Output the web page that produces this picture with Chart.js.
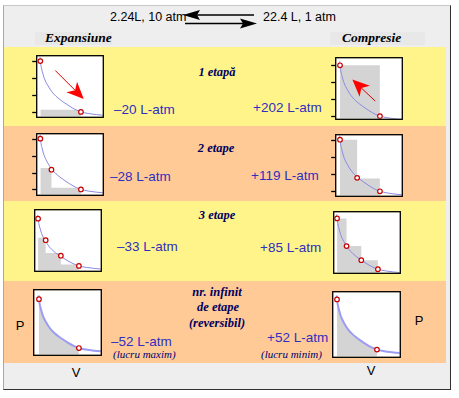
<!DOCTYPE html>
<html lang="ro">
<head>
<meta charset="UTF-8">
<title>Lucru mecanic izoterm: expansiune si compresie</title>
<script src="https://cdn.jsdelivr.net/npm/chart.js"></script>
<style>
  body { margin:0; width:459px; height:398px; position:relative; overflow:hidden; background:#fff;
         font-family:"Liberation Sans", Arial, sans-serif; }
  .abs { position:absolute; }
  .panel { left:3px; top:5px; width:446px; height:383px; background:#eeeeee;
           border-left:1px solid #a8a8a8; border-top:1px solid #c8c8c8;
           border-right:1px solid #303030; border-bottom:1px solid #303030; }
  .row { left:4px; width:442px; }
  .yel { background:#fff48a; }
  .org { background:#ffca96; }
  .t { position:absolute; line-height:1; white-space:nowrap; transform:translateY(-50%); }
  .c { transform:translate(-50%,-50%); text-align:center; }
  .hdr { font-size:12.5px; color:#000; }
  .head { font-family:"Liberation Serif", "Times New Roman", serif; font-weight:bold; font-style:italic; font-size:13.5px; color:#000; }
  .step { font-family:"Liberation Serif", "Times New Roman", serif; font-weight:bold; font-style:italic; font-size:12.5px; color:#000060; }
  .work { font-size:13.5px; color:#2f2fbf; }
  .note { font-family:"Liberation Serif", "Times New Roman", serif; font-style:italic; font-size:11px; color:#000070; }
  .axl { font-size:13px; color:#000; }
  canvas { position:absolute; }
</style>
</head>
<body>
<div class="abs panel"></div>
<div class="abs" style="left:35px;top:32px;width:77px;height:13px;background:#e8e8e8"></div>
<div class="abs" style="left:330px;top:32px;width:95px;height:13px;background:#e8e8e8"></div>
<div class="abs row yel" style="top:47px;height:79px"></div>
<div class="abs row org" style="top:126px;height:75px"></div>
<div class="abs row yel" style="top:201px;height:80px"></div>
<div class="abs row org" style="top:281px;height:82px"></div>

<svg class="abs" style="left:0;top:0" width="459" height="40">
  <line x1="195" y1="15" x2="254" y2="15" stroke="#000" stroke-width="1.3"/>
  <polygon points="183,15 200,10 197,15 200,20" fill="#000"/>
  <line x1="185" y1="23.5" x2="246" y2="23.5" stroke="#000" stroke-width="1.3"/>
  <polygon points="257,23.5 240,18.5 243,23.5 240,28.5" fill="#000"/>
</svg>

<div class="t hdr" style="left:110px;top:17px">2.24L, 10 atm</div>
<div class="t hdr" style="left:263px;top:17px">22.4 L, 1 atm</div>
<div class="t head" style="left:45px;top:38px">Expansiune</div>
<div class="t head" style="left:342px;top:38px">Compresie</div>

<div class="t step c" style="left:217px;top:72px">1 etapă</div>
<div class="t step c" style="left:216px;top:148px">2 etape</div>
<div class="t step c" style="left:217px;top:215px">3 etape</div>
<div class="t step c" style="left:217px;top:292px">nr. infinit</div>
<div class="t step c" style="left:218px;top:307px">de etape</div>
<div class="t step c" style="left:217px;top:323px">(reversibil)</div>

<div class="t work" id="we0" style="left:114px;top:110px"></div>
<div class="t work" id="wc0" style="left:253px;top:108px"></div>
<div class="t work" id="we1" style="left:110px;top:177px"></div>
<div class="t work" id="wc1" style="left:251px;top:176px"></div>
<div class="t work" id="we2" style="left:117px;top:247px"></div>
<div class="t work" id="wc2" style="left:260px;top:248px"></div>
<div class="t work" id="we3" style="left:111px;top:342px"></div>
<div class="t work" id="wc3" style="left:267px;top:338px"></div>
<div class="t note" style="left:113px;top:354px">(lucru maxim)</div>
<div class="t note" style="left:261px;top:354px">(lucru minim)</div>

<div class="t axl c" style="left:20px;top:325px">P</div>
<div class="t axl c" style="left:419px;top:320px">P</div>
<div class="t axl c" style="left:76px;top:372px">V</div>
<div class="t axl c" style="left:371px;top:370px">V</div>

<script>
// izoterma, citita de pe desen (V in L, P in atm)
const curveV = [2.1, 2.24, 2.6, 3.2, 4, 5, 6, 7, 8, 10, 12, 14, 17, 20, 22.4, 26, 30, 34, 36];
const curveP = [10.7, 10, 9.1, 8.2, 7.15, 6.3, 5.65, 5.05, 4.55, 3.78, 3.18, 2.66, 1.95, 1.35, 1.0, 0.72, 0.52, 0.38, 0.33];

// lucrul mecanic (L-atm)
const workExp = ['\u201320', '\u201328', '\u201333', '\u201352'];
const workCmp = ['+202', '+119', '+85', '+52'];

// 1 etapa
const exp1V = [2.24, 22.4];        const exp1P = [10, 1];       const exp1Step = [1.4];
const cmp1V = [2.24, 22.4];        const cmp1P = [10, 1];       const cmp1Step = [10];
// 2 etape
const exp2V = [2.24, 7.76, 22.4];  const exp2P = [10, 4.5, 1];  const exp2Step = [4.8, 1.3];
const cmp2V = [2.24, 10.9, 22.4];  const cmp2P = [10, 3.35, 1]; const cmp2Step = [10, 3.25];
// 3 etape
const exp3V = [2.24, 6.0, 13.5, 22.4];  const exp3P = [10, 5.9, 2.95, 1]; const exp3Step = [6.35, 3.45, 1.25];
const cmp3V = [2.24, 6.93, 14.2, 22.4]; const cmp3P = [10, 5.1, 2.6, 1];  const cmp3Step = [10, 5.1, 2.6];
// reversibil
const revV = [2.24, 22.4];         const revP = [10, 1];

// sageti (V, P): de la -> la
const arrowExpFrom = [9.65, 8.34]; const arrowExpTo = [23.8, 3.29];
const arrowCmpFrom = [20.0, 3.68]; const arrowCmpTo = [8.48, 7.47];

const tickP = [1, 4, 7, 10];

workExp.forEach((w, i) => document.getElementById('we' + i).textContent = w + ' L-atm');
workCmp.forEach((w, i) => document.getElementById('wc' + i).textContent = w + ' L-atm');

const zip = (xs, ys) => xs.map((x, i) => ({x: x, y: ys[i]}));

function stepData(vs, ps) {
  const d = [];
  ps.forEach((p, i) => { d.push({x: vs[i], y: p}, {x: vs[i + 1], y: p}); });
  return d;
}

function drawArrow(ctx, x1, y1, x2, y2) {
  const a = Math.atan2(y2 - y1, x2 - x1);
  const ux = Math.cos(a), uy = Math.sin(a), nx = -uy, ny = ux;
  const head = 17, half = 7.5;
  ctx.save();
  ctx.strokeStyle = '#e00000';
  ctx.lineWidth = 1;
  ctx.beginPath();
  ctx.moveTo(x1, y1);
  ctx.lineTo(x2 - head * 0.7 * ux, y2 - head * 0.7 * uy);
  ctx.stroke();
  ctx.fillStyle = '#ff0000';
  ctx.beginPath();
  ctx.moveTo(x2, y2);
  ctx.lineTo(x2 - head * ux + half * nx, y2 - head * uy + half * ny);
  ctx.lineTo(x2 - head * 0.72 * ux, y2 - head * 0.72 * uy);
  ctx.lineTo(x2 - head * ux - half * nx, y2 - head * uy - half * ny);
  ctx.closePath();
  ctx.fill();
  ctx.restore();
}

const frame = {
  id: 'frame',
  beforeDraw(chart) {
    const a = chart.chartArea, ctx = chart.ctx;
    ctx.save();
    ctx.fillStyle = '#fff';
    ctx.fillRect(a.left, a.top, a.right - a.left, a.bottom - a.top);
    ctx.restore();
  },
  afterDraw(chart, args, opts) {
    const a = chart.chartArea, ctx = chart.ctx;
    const xs = chart.scales.x, ys = chart.scales.y;
    ctx.save();
    if (opts.arrow) {
      const [f, t] = opts.arrow;
      drawArrow(ctx, xs.getPixelForValue(f[0]), ys.getPixelForValue(f[1]),
                     xs.getPixelForValue(t[0]), ys.getPixelForValue(t[1]));
    }
    ctx.strokeStyle = '#000';
    ctx.lineWidth = 1.3;
    ctx.strokeRect(a.left - 0.5, a.top - 0.5, a.right - a.left + 1, a.bottom - a.top + 1);
    if (opts.ticks) {
      ctx.lineWidth = 1.3;
      opts.ticks.forEach(p => {
        const y = Math.round(ys.getPixelForValue(p)) + 0.5;
        ctx.beginPath();
        ctx.moveTo(a.left - 5, y);
        ctx.lineTo(a.left - 1, y);
        ctx.stroke();
      });
    }
    ctx.restore();
  }
};

function makeChart(c) {
  const cv = document.createElement('canvas');
  cv.width = c.box[2] + 4;
  cv.height = c.box[3];
  cv.style.left = (c.box[0] - 4) + 'px';
  cv.style.top = c.box[1] + 'px';
  document.body.appendChild(cv);

  const datasets = [
    { data: c.pts, showLine: false, pointRadius: 2.3, pointBorderWidth: 1.2,
      pointBorderColor: '#c80000', pointBackgroundColor: '#ffffff', order: 0 },
    { data: zip(curveV, curveP), borderColor: c.thick ? '#9c9cf4' : '#8a8ae0',
      borderWidth: c.thick ? 2 : 1, pointRadius: 0, cubicInterpolationMode: 'monotone', order: 1 },
    { data: c.grey, borderWidth: 0, pointRadius: 0, fill: 'start',
      backgroundColor: '#d4d4d4', cubicInterpolationMode: c.thick ? 'monotone' : 'default', order: 2 }
  ];

  return new Chart(cv, {
    type: 'line',
    data: { datasets: datasets },
    options: {
      responsive: false,
      animation: false,
      devicePixelRatio: 1,
      events: [],
      layout: { padding: { left: 5, top: 1, right: 1, bottom: 1 } },
      plugins: {
        legend: { display: false },
        tooltip: { enabled: false },
        frame: { ticks: c.ticks, arrow: c.arrow }
      },
      scales: {
        x: { type: 'linear', min: c.xr[0], max: c.xr[1], display: false },
        y: { type: 'linear', min: c.yr[0], max: c.yr[1], display: false }
      }
    },
    plugins: [frame]
  });
}

const areaV = curveV.filter(v => v >= 2.24 && v <= 22.4);
const areaP = curveP.filter((p, i) => curveV[i] >= 2.24 && curveV[i] <= 22.4);

makeChart({ box: [36, 51, 72, 71], xr: [0.68, 33.26], yr: [0.13, 10.87],
  pts: zip(exp1V, exp1P), grey: stepData(exp1V, exp1Step), ticks: tickP,
  arrow: [arrowExpFrom, arrowExpTo] });
makeChart({ box: [335, 53, 72, 71], xr: [0.32, 33.44], yr: [0.53, 11.26],
  pts: zip(cmp1V, cmp1P), grey: stepData(cmp1V, cmp1Step), ticks: tickP,
  arrow: [arrowCmpFrom, arrowCmpTo] });
makeChart({ box: [36, 129, 72, 71], xr: [0.68, 33.26], yr: [0.05, 10.79],
  pts: zip(exp2V, exp2P), grey: stepData(exp2V, exp2Step), ticks: tickP });
makeChart({ box: [335, 130, 72, 71], xr: [0.32, 33.44], yr: [0.22, 10.78],
  pts: zip(cmp2V, cmp2P), grey: stepData(cmp2V, cmp2Step), ticks: tickP });
makeChart({ box: [34, 205, 72, 71], xr: [0.83, 33.2], yr: [0.07, 11.61],
  pts: zip(exp3V, exp3P), grey: stepData(exp3V, exp3Step) });
makeChart({ box: [333, 207, 72, 71], xr: [0.83, 33.2], yr: [0.37, 11.1],
  pts: zip(cmp3V, cmp3P), grey: stepData(cmp3V, cmp3Step) });
makeChart({ box: [33, 285, 73, 75], xr: [-0.16, 33.44], yr: [-0.24, 11.65],
  pts: zip(revV, revP), grey: zip(areaV, areaP), thick: true });
makeChart({ box: [332, 287, 73, 75], xr: [0.32, 33.92], yr: [-0.29, 11.29],
  pts: zip(revV, revP), grey: zip(areaV, areaP), thick: true });
</script>
</body>
</html>
